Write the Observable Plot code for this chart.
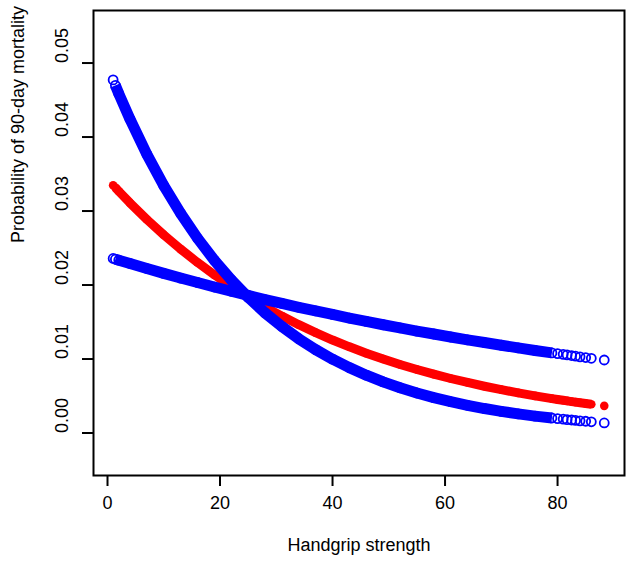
<!DOCTYPE html>
<html>
<head>
<meta charset="utf-8">
<script src="https://cdn.jsdelivr.net/npm/d3@7"></script>
<script src="https://cdn.jsdelivr.net/npm/@observablehq/plot@0.6"></script>
<style>
  html, body { margin: 0; padding: 0; background: #ffffff; }
  #chart { width: 630px; height: 567px; }
</style>
</head>
<body>
<div id="chart"></div>
<script>
// Handgrip strength values (x) at which predictions were plotted
const handgrip = [1, 1.4, 2, 4, 7, 10, 13, 16, 19, 22, 25, 28, 31, 34, 37, 40, 43, 46, 49, 52, 55, 58, 61, 64, 67, 70, 73, 76, 79, 80, 81, 81.7, 82.5, 83.2, 84, 85, 86, 88.3];
// Predicted probability of 90-day mortality (red)
const fitted = [0.03349, 0.03317, 0.03268, 0.03109, 0.02886, 0.02678, 0.02485, 0.02305, 0.02137, 0.01982, 0.01839, 0.01704, 0.01580, 0.01464, 0.01357, 0.01257, 0.01165, 0.01079, 0.01000, 0.00926, 0.00859, 0.00796, 0.00737, 0.00683, 0.00632, 0.00586, 0.00542, 0.00502, 0.00465, 0.00453, 0.00442, 0.00434, 0.00425, 0.00417, 0.00409, 0.00399, 0.00389, 0.00367];
// Confidence band, steep curve (blue)
const bandSteep = [0.04772, 0.04698, 0.04587, 0.04241, 0.03766, 0.03344, 0.02969, 0.02632, 0.02334, 0.02069, 0.01834, 0.01624, 0.01439, 0.01274, 0.01127, 0.00998, 0.00884, 0.00782, 0.00691, 0.00612, 0.00541, 0.00479, 0.00424, 0.00375, 0.00331, 0.00293, 0.00259, 0.00229, 0.00203, 0.00195, 0.00187, 0.00181, 0.00176, 0.00170, 0.00165, 0.00159, 0.00152, 0.00136];
// Confidence band, shallow curve (blue)
const bandShallow = [0.02359, 0.02349, 0.02336, 0.02291, 0.02223, 0.02158, 0.02094, 0.02034, 0.01973, 0.01916, 0.01860, 0.01804, 0.01752, 0.01699, 0.01650, 0.01602, 0.01554, 0.01508, 0.01463, 0.01420, 0.01378, 0.01338, 0.01298, 0.01259, 0.01223, 0.01186, 0.01151, 0.01116, 0.01083, 0.01073, 0.01063, 0.01055, 0.01047, 0.01038, 0.01030, 0.01020, 0.01010, 0.00987];

const xTicks = [0, 20, 40, 60, 80];
const yTicks = [0, 0.01, 0.02, 0.03, 0.04, 0.05];
const yTickLabels = ["0.00", "0.01", "0.02", "0.03", "0.04", "0.05"];
const xTitle = "Handgrip strength";
const yTitle = "Probability of 90-day mortality";

const rows = handgrip.map((x, i) => ({x, fit: fitted[i], steep: bandSteep[i], shallow: bandShallow[i]}));
const denseBlue = rows.filter(d => d.x >= 1.4 && d.x <= 79);
const denseRed = rows.filter(d => d.x >= 1.4 && d.x <= 86);
const yLabelRows = yTicks.map((v, i) => ({v, label: yTickLabels[i]}));

const BLUE = "#0000ff";
const RED = "#ff0000";

const chart = Plot.plot({
  width: 630,
  height: 567,
  marginLeft: 93,
  marginRight: 6,
  marginTop: 10,
  marginBottom: 92,
  style: {fontFamily: "'Liberation Sans', Arial, Helvetica, sans-serif", fontSize: "18px", background: "#ffffff", color: "#000"},
  x: {domain: [-2.49, 91.9], label: null},
  y: {domain: [-0.00574, 0.0571], label: null},
  marks: [
    // fitted curve (red)
    Plot.line(denseRed, {x: "x", y: "fit", stroke: RED, strokeWidth: 9, strokeLinecap: "butt"}),
    Plot.dot(rows, {x: "x", y: "fit", r: 4.3, fill: RED, stroke: "none"}),
    // confidence band curves (blue)
    Plot.line(denseBlue, {x: "x", y: "shallow", stroke: BLUE, strokeWidth: 11, strokeLinecap: "butt"}),
    Plot.dot(rows, {x: "x", y: "shallow", r: 4.5, fill: "none", stroke: BLUE, strokeWidth: 1.8}),
    Plot.line(denseBlue, {x: "x", y: "steep", stroke: BLUE, strokeWidth: 11, strokeLinecap: "butt"}),
    Plot.dot(rows, {x: "x", y: "steep", r: 4.5, fill: "none", stroke: BLUE, strokeWidth: 1.8}),
    // frame and axes
    Plot.frame({stroke: "#000", strokeWidth: 2}),
    Plot.axisX({ticks: xTicks, tickSize: 11, tickPadding: 10, tickFormat: d => String(d), label: null, strokeWidth: 2, fontSize: 18}),
    Plot.axisY({ticks: yTicks, tickSize: 11, tickFormat: () => "", label: null, strokeWidth: 2}),
    Plot.text(yLabelRows, {y: "v", text: "label", frameAnchor: "left", rotate: -90, dx: -31, fontSize: 18, fill: "#000"}),
    Plot.text([xTitle], {text: d => d, frameAnchor: "bottom", dy: 75, fontSize: 18, fill: "#000"}),
    Plot.text([yTitle], {text: d => d, frameAnchor: "left", rotate: -90, dx: -75, fontSize: 18, fill: "#000"})
  ]
});
document.getElementById("chart").appendChild(chart);
</script>
</body>
</html>
